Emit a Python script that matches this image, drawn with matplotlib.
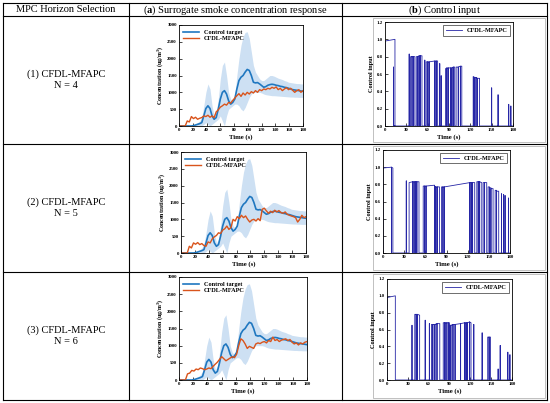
import numpy as np
import matplotlib
matplotlib.use("Agg")
import matplotlib.pyplot as plt
from matplotlib.patches import Rectangle

plt.rcParams["font.family"] = ["Liberation Serif", "DejaVu Serif"]
plt.rcParams["mathtext.fontset"] = "custom"
plt.rcParams["mathtext.rm"] = "Liberation Serif"
plt.rcParams["mathtext.bf"] = "Liberation Serif:bold"

W, H = 550, 403

# sampling grid of the concentration curves (s)
time = np.arange(0, 181, 3)

# control target and its uncertainty band (same in every row)
target = [0, 0, 0, 0, 0, 0, 0,
          10, 30, 50, 70, 100, 300, 520, 600, 520, 300,
          200, 250, 500, 800, 1000, 1050, 950, 750, 650, 700,
          800, 1100, 1350, 1450, 1500, 1600, 1680, 1650, 1500, 1300,
          1280, 1290, 1250, 1200, 1150, 1170, 1210, 1230, 1240, 1230,
          1210, 1200, 1180, 1170, 1150, 1140, 1120, 1100, 1080, 1070,
          1060, 1050, 1040, 1030]
band_hi = [0, 0, 0, 0, 0, 0, 0,
           20, 50, 100, 150, 250, 600, 1000, 1250, 1100, 600,
           300, 400, 800, 1400, 1800, 1900, 1500, 1000, 800, 750,
           900, 1500, 2000, 2400, 2650, 2780, 2800, 2600, 2200, 1800,
           1600, 1500, 1400, 1350, 1350, 1400, 1450, 1500, 1500, 1480,
           1450, 1420, 1400, 1380, 1350, 1330, 1300, 1290, 1280, 1270,
           1260, 1260, 1250, 1250]
band_lo = [0, 0, 0, 0, 0, 0, 0, 0, 0, 0, 0, 0,
           50, 100, 50, 0, 50, 100, 150, 200, 300, 150,
           0, 300, 500, 550, 600, 650, 650, 600, 500, 450,
           550, 700, 850, 950, 1000, 1000, 1000, 1000, 980, 950,
           930, 920, 910, 900, 900, 895, 890, 885, 880, 875,
           870, 865, 860, 860, 855, 855, 850, 850, 850]

# CFDL-MFAPC response for N = 4, 5, 6
resp_n4 = [0, 0, 0, 0,
           150, 120, 280, 220, 260, 200, 230, 250, 300, 280,
           320, 260, 300, 250, 420, 480, 560, 600, 650, 620,
           700, 680, 760, 830, 900, 960, 880, 980, 920, 1000,
           950, 1020, 980, 1050, 1000, 1080, 1050, 1100, 1080, 1120,
           1100, 1150, 1120, 1160, 1080, 1120, 1050, 1100, 1140, 1080,
           1120, 1060, 1000, 1050, 1080, 1000, 1050]
resp_n5 = [0, 0, 0, 0,
           200, 150, 300, 260, 310, 250, 280, 220, 200, 330,
           300, 420, 480, 520, 600, 580, 680, 720, 800, 700,
           760, 1000, 950, 1080, 1020, 1120, 1050, 1100, 1000, 920,
           980, 1000, 950, 1020, 960, 1300, 1330, 1250, 1180, 1240,
           1200, 1270, 1220, 1260, 1200, 1180, 1220, 1150, 1120, 1100,
           1080, 1050, 920, 1000, 1120, 1050, 1080]
resp_n6 = [0, 0, 0, 0,
           180, 200, 280, 260, 320, 300, 350, 330, 300, 320,
           350, 330, 400, 460, 520, 600, 680, 620, 560, 600,
           640, 680, 650, 750, 1000, 1200, 1150, 1050, 920, 980,
           950, 920, 1050, 1080, 1060, 1100, 1120, 1080, 1150, 1120,
           1250, 1150, 1180, 1120, 1160, 1180, 1200, 1150, 1180, 1100,
           1050, 1080, 1020, 1080, 1050, 1100, 1120]

# control input: on-intervals (t_start, t_end, level_start, level_end)
u_n4 = [(0, 14, 0.98, 1.00), (12, 12, 0.68, 0.68), (34, 34, 0.83, 0.83),
        (36, 38, 0.80, 0.80), (38, 40, 0.80, 0.80), (40, 42, 0.80, 0.80),
        (44, 46, 0.80, 0.80), (46, 48, 0.80, 0.81), (48, 50, 0.81, 0.81),
        (50, 52, 0.81, 0.81), (56, 56, 0.76, 0.76), (58, 60, 0.74, 0.74),
        (60, 62, 0.74, 0.74), (62, 70, 0.74, 0.75), (70, 72, 0.75, 0.75),
        (72, 74, 0.75, 0.75), (77, 77, 0.72, 0.72), (79, 79, 0.58, 0.58),
        (85, 87, 0.66, 0.67), (87, 89, 0.67, 0.67), (89, 92, 0.67, 0.67),
        (92, 94, 0.67, 0.67), (94, 96, 0.67, 0.68), (96, 98, 0.68, 0.68),
        (100, 103, 0.68, 0.68), (103, 106, 0.68, 0.69), (106, 108, 0.69, 0.69),
        (124, 125, 0.57, 0.57), (126, 128, 0.56, 0.56), (128, 130, 0.56, 0.55),
        (130, 133, 0.55, 0.55), (150, 150, 0.44, 0.44), (159, 159, 0.36, 0.36),
        (174, 174, 0.25, 0.25), (177, 177, 0.23, 0.23)]
u_n5 = [(0, 12, 0.99, 1.00), (12, 14, 1.00, 0.99), (33, 33, 0.84, 0.84),
        (37, 42, 0.82, 0.83), (42, 44, 0.83, 0.83), (44, 46, 0.83, 0.83),
        (46, 48, 0.83, 0.83), (48, 51, 0.83, 0.83), (57, 59, 0.78, 0.78),
        (59, 61, 0.78, 0.78), (61, 73, 0.78, 0.79), (73, 75, 0.78, 0.77),
        (75, 77, 0.77, 0.77), (77, 80, 0.77, 0.77), (83, 85, 0.77, 0.77),
        (85, 87, 0.77, 0.77), (87, 123, 0.77, 0.82), (123, 125, 0.82, 0.82),
        (125, 127, 0.82, 0.82), (127, 130, 0.82, 0.82), (133, 135, 0.83, 0.83),
        (135, 137, 0.83, 0.83), (137, 140, 0.83, 0.82), (142, 144, 0.82, 0.82),
        (144, 147, 0.82, 0.82), (149, 151, 0.77, 0.77), (151, 153, 0.76, 0.76),
        (153, 156, 0.75, 0.75), (159, 161, 0.73, 0.73), (161, 164, 0.72, 0.72),
        (168, 168, 0.69, 0.69), (171, 171, 0.68, 0.68), (173, 173, 0.67, 0.67),
        (178, 178, 0.64, 0.64)]
u_n6 = [(0, 12, 0.98, 1.00), (36, 36, 0.65, 0.65), (40, 42, 0.78, 0.78),
        (42, 44, 0.78, 0.78), (44, 47, 0.78, 0.77), (55, 55, 0.71, 0.71),
        (61, 61, 0.67, 0.67), (64, 66, 0.66, 0.66), (66, 69, 0.66, 0.66),
        (69, 72, 0.66, 0.67), (72, 76, 0.67, 0.67), (81, 83, 0.68, 0.68),
        (83, 85, 0.68, 0.68), (85, 88, 0.68, 0.68), (88, 90, 0.68, 0.68),
        (90, 92, 0.65, 0.65), (92, 95, 0.65, 0.66), (95, 98, 0.66, 0.66),
        (98, 106, 0.66, 0.67), (106, 112, 0.67, 0.68), (112, 114, 0.68, 0.68),
        (114, 116, 0.68, 0.68), (116, 119, 0.68, 0.69), (119, 121, 0.69, 0.68),
        (125, 125, 0.66, 0.66), (137, 137, 0.56, 0.56), (145, 147, 0.51, 0.51),
        (147, 149, 0.51, 0.51), (160, 160, 0.13, 0.13), (163, 163, 0.41, 0.41),
        (174, 174, 0.33, 0.33), (177, 177, 0.30, 0.30)]

row_labels = ["(1) CFDL-MFAPC\nN = 4", "(2) CFDL-MFAPC\nN = 5", "(3) CFDL-MFAPC\nN = 6"]
headers = ["MPC Horizon Selection",
           r"($\mathbf{a}$) Surrogate smoke concentration response",
           r"($\mathbf{b}$) Control input"]

C_TARGET = "#1f77c0"
C_RESP = "#d9541c"
C_BAND = "#cde0f3"
C_INPUT = "#2626a6"


def rect(l, t, r, b):
    return [l / W, 1 - b / H, (r - l) / W, (b - t) / H]


def pulse_path(pulses):
    ts, vs = [0.0], [0.0]
    for t0, t1, v0, v1 in pulses:
        ts += [t0, t0, t1, t1]
        vs += [0, v0, v1, 0]
    ts.append(180)
    vs.append(0)
    return ts, vs


def style(ax):
    for s in ax.spines.values():
        s.set_linewidth(0.6)
    ax.tick_params(direction="in", length=2, width=0.5, labelsize=3.5, pad=1.5)
    for lab in ax.get_xticklabels() + ax.get_yticklabels():
        lab.set_fontweight("bold")


fig = plt.figure(figsize=(W / 100, H / 100), dpi=100)

# table grid
grid = fig.add_axes([0, 0, 1, 1])
grid.set_xlim(0, W)
grid.set_ylim(H, 0)
grid.axis("off")
col_x = [3, 129, 342, 547]
row_y = [3, 16, 144, 272, 400]
for x in col_x:
    grid.plot([x, x], [row_y[0], row_y[-1]], color="black", lw=0.8)
for y in row_y:
    grid.plot([col_x[0], col_x[-1]], [y, y], color="black", lw=0.8)
for i, h in enumerate(headers):
    grid.text((col_x[i] + col_x[i + 1]) / 2, 10, h, ha="center", va="center", fontsize=7.5)
for i, lab in enumerate(row_labels):
    grid.text(66, (row_y[i + 1] + row_y[i + 2]) / 2, lab, ha="center", va="center",
              fontsize=7.5, linespacing=1.3)
    grid.add_patch(Rectangle((373, row_y[i + 1] + 2), 172, 124, fill=False,
                             edgecolor="#b5b5b5", lw=0.6))

a_rects = [(179, 25, 303, 126), (181, 152, 306, 253), (179, 277, 307, 380)]
b_rects = [(385, 22, 513, 126), (383, 150, 510, 253), (387, 279, 512, 380)]
responses = [resp_n4, resp_n5, resp_n6]
inputs = [u_n4, u_n5, u_n6]

for i in range(3):
    ax = fig.add_axes(rect(*a_rects[i]))
    ax.fill_between(time, band_lo, band_hi, color=C_BAND, lw=0)
    ax.plot(time, target, color=C_TARGET, lw=1.2, label="Control target")
    ax.plot(time, responses[i], color=C_RESP, lw=1.0, label="CFDL-MFAPC")
    ax.set_xlim(0, 180)
    ax.set_ylim(0, 3000)
    ax.set_xticks(range(0, 181, 20))
    ax.set_yticks(range(0, 3001, 500))
    ax.set_xlabel("Time (s)", fontsize=4.8, fontweight="bold", labelpad=1.5)
    ax.set_ylabel(r"Concentration (ug/m$^{\mathbf{3}}$)", fontsize=4.3, fontweight="bold", labelpad=2)
    ax.legend(loc="upper left", frameon=False, prop={"size": 4.5, "weight": "bold"},
              handlelength=2.5, borderaxespad=0.3, labelspacing=0.2)
    style(ax)

    bx = fig.add_axes(rect(*b_rects[i]))
    ts, vs = pulse_path(inputs[i])
    bx.plot(ts, vs, color=C_INPUT, lw=0.6, label="CFDL-MFAPC")
    bx.set_xlim(0, 180)
    bx.set_ylim(0, 1.2)
    bx.set_xticks(range(0, 181, 30))
    bx.set_yticks(np.arange(0, 1.21, 0.2))
    bx.set_yticklabels([f"{v:.1f}" for v in np.arange(0, 1.21, 0.2)])
    bx.set_xlabel("Time (s)", fontsize=4.8, fontweight="bold", labelpad=1.5)
    bx.set_ylabel("Control input", fontsize=4.5, fontweight="bold", labelpad=2)
    leg = bx.legend(loc="upper right", frameon=True, fancybox=False, prop={"size": 4.5, "weight": "bold"},
                    handlelength=2.5, borderaxespad=0.5, borderpad=0.4)
    leg.get_frame().set_edgecolor("black")
    leg.get_frame().set_linewidth(0.5)
    style(bx)

fig.savefig("out.png", dpi=100)
